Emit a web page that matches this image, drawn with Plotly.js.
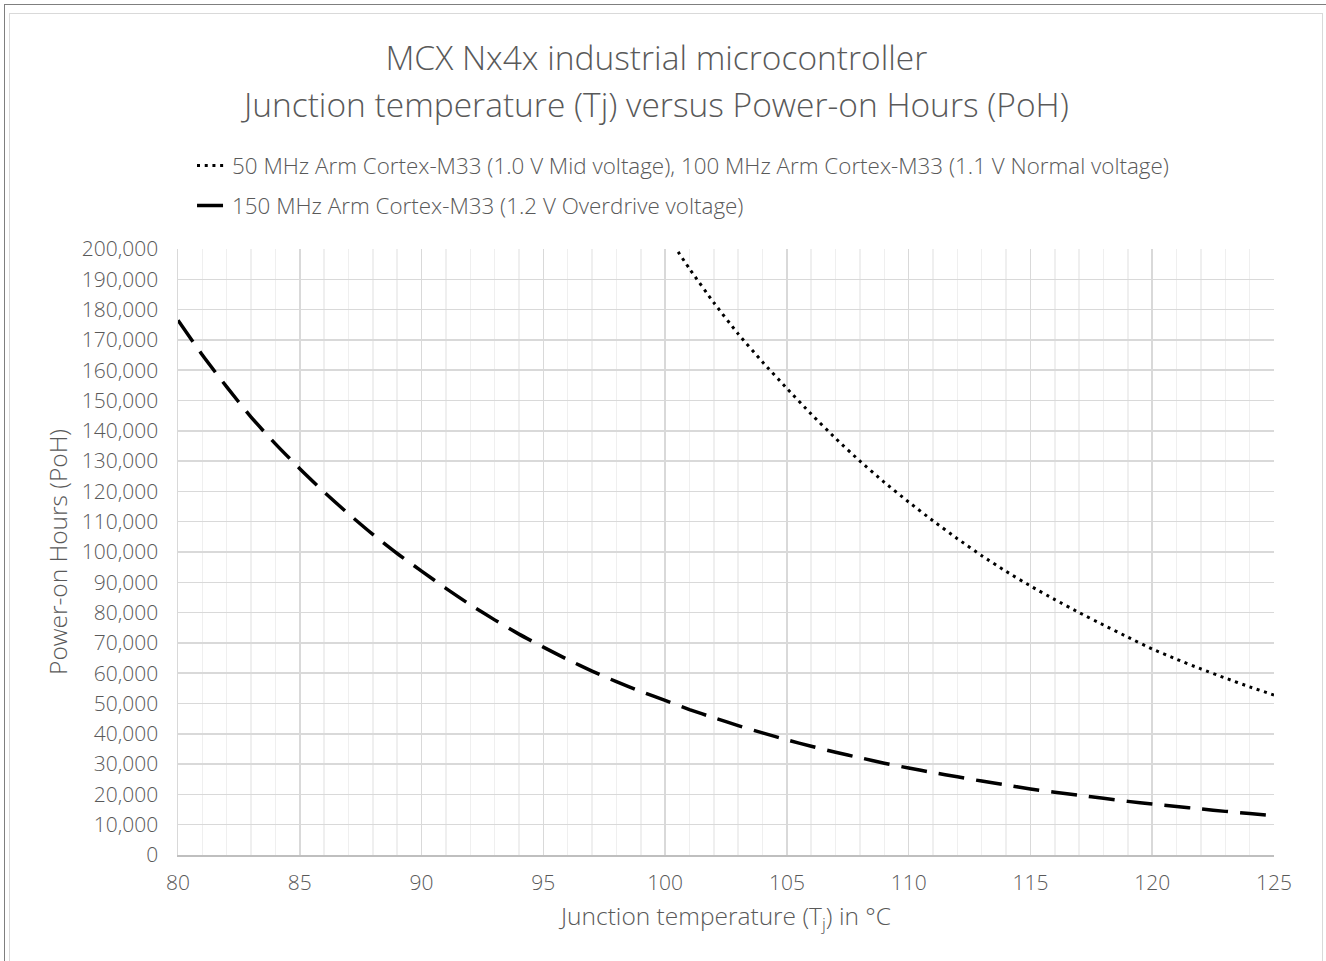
<!DOCTYPE html>
<html>
<head>
<meta charset="utf-8">
<script src="https://cdn.plot.ly/plotly-3.0.1.min.js"></script>
<style>
  html, body { margin: 0; padding: 0; background: #ffffff; }
  #wrap { position: relative; width: 1326px; height: 961px; overflow: hidden; }
  #chart { position: absolute; left: 0; top: 0; width: 1326px; height: 961px; }
  .frame-outer { position: absolute; left: 4px; top: 4px; width: 1340px; height: 1000px;
                 border-top: 1.5px solid #7f7f7f; border-left: 1.5px solid #7f7f7f; pointer-events: none; }
  .frame-inner { position: absolute; left: 9px; top: 13px; width: 1312px; height: 1000px;
                 border: 1.5px solid #d9d9d9; pointer-events: none; }
</style>
</head>
<body>
<div id="wrap">
  <div id="chart"></div>
  <div class="frame-outer"></div>
  <div class="frame-inner"></div>
</div>
<script>
// Junction temperature (°C)
const tempsOverdrive = [80,81,82,83,84,85,86,87,88,89,90,91,92,93,94,95,96,97,98,99,100,
                        101,102,103,104,105,106,107,108,109,110,111,112,113,114,115,116,117,118,119,120,
                        121,122,123,124,125];
// 150 MHz Arm Cortex-M33 (1.2 V Overdrive voltage) – power-on hours
const pohOverdrive = [176500,165000,154500,144500,135700,127500,119800,112600,105800,99500,93700,
                      88000,82600,77600,72900,68600,64500,60700,57200,54000,51000,
                      48000,45300,42700,40300,38000,35900,33900,32100,30300,28700,
                      27200,25800,24400,23100,21800,20700,19700,18700,17700,16800,
                      16000,15200,14400,13700,13000];
// 50 MHz / 100 MHz Arm Cortex-M33 (1.0 V Mid / 1.1 V Normal voltage)
const tempsNormal = [100,101,102,103,104,105,106,107,108,109,110,111,112,113,114,115,116,117,118,119,120,
                     121,122,123,124,125];
const pohNormal = [205500,193500,182300,172000,162700,154000,145500,137500,130000,123000,116500,
                   110300,104400,98800,93600,88800,84300,80000,75900,71900,68000,
                   64600,61400,58400,55500,52800];

const seriesNames = [
  "50 MHz Arm Cortex-M33 (1.0 V Mid voltage), 100 MHz Arm Cortex-M33 (1.1 V Normal voltage)",
  "150 MHz Arm Cortex-M33 (1.2 V Overdrive voltage)"
];
const titleLine1 = "MCX Nx4x industrial microcontroller";
const titleLine2 = "Junction temperature (Tj) versus Power-on Hours (PoH)";
const xTitle = "Junction temperature (T<sub>j</sub>) in °C";
const yTitle = "Power-on Hours (PoH)";

const FONT = '"Open Sans", "Noto Sans", sans-serif';
const GREY = '#595959';

const traces = [
  {
    x: tempsNormal, y: pohNormal, name: seriesNames[0], type: 'scatter', mode: 'lines',
    legendgroup: 'a',
    line: { color: '#000000', width: 3, dash: '3px,4.7px', shape: 'spline', smoothing: 0.6 }
  },
  {
    x: tempsOverdrive, y: pohOverdrive, name: seriesNames[1], type: 'scatter', mode: 'lines',
    legendgroup: 'b',
    line: { color: '#000000', width: 3.5, dash: '26px,12px', shape: 'spline', smoothing: 0.6 }
  }
];

const titleSpan = t => '<span style="font-size:33.5px">' + t + '</span>';

const layout = {
  width: 1326, height: 961,
  paper_bgcolor: 'rgba(0,0,0,0)', plot_bgcolor: '#ffffff',
  font: { family: FONT, color: GREY, size: 20, weight: 300 },
  margin: { l: 178, r: 52, t: 249, b: 106, autoexpand: false },
  title: {
    text: titleSpan(titleLine1) + '<br>' + titleSpan(titleLine2),
    font: { family: FONT, size: 36, color: GREY, weight: 300 },
    x: 0.495, xanchor: 'center', xref: 'container',
    y: 0.9272, yanchor: 'top', yref: 'container'
  },
  showlegend: true,
  legend: {
    orientation: 'v', x: 0.0128, xanchor: 'left', y: 1.1727, yanchor: 'top',
    font: { family: FONT, size: 22.4, color: GREY, weight: 300 },
    tracegroupgap: 8, bgcolor: 'rgba(0,0,0,0)', itemwidth: 30
  },
  xaxis: {
    range: [80, 125], tick0: 80, dtick: 5, showgrid: true, gridcolor: '#d9d9d9', gridwidth: 1.5,
    minor: { tick0: 80, dtick: 1, showgrid: true, gridcolor: '#efefef', gridwidth: 1.5 },
    showline: true, linecolor: '#bfbfbf', linewidth: 1.5, zeroline: false,
    ticks: '', ticklabelstandoff: 8,
    tickfont: { family: FONT, size: 21, color: GREY, weight: 300 },
    title: { text: xTitle, font: { family: FONT, size: 24.5, color: GREY, weight: 300 }, standoff: 13 },
    fixedrange: true
  },
  yaxis: {
    range: [0, 200000], tick0: 0, dtick: 10000, tickformat: ',d',
    showgrid: true, gridcolor: '#d9d9d9', gridwidth: 1.5,
    showline: true, linecolor: '#d9d9d9', linewidth: 1.5, zeroline: false,
    ticks: '', ticklabelstandoff: 14,
    tickfont: { family: FONT, size: 21, color: GREY, weight: 300 },
    title: { text: yTitle, font: { family: FONT, size: 24.5, color: GREY, weight: 300 }, standoff: 7 },
    fixedrange: true
  }
};

Plotly.newPlot('chart', traces, layout, { displayModeBar: false, staticPlot: true });
</script>
</body>
</html>
